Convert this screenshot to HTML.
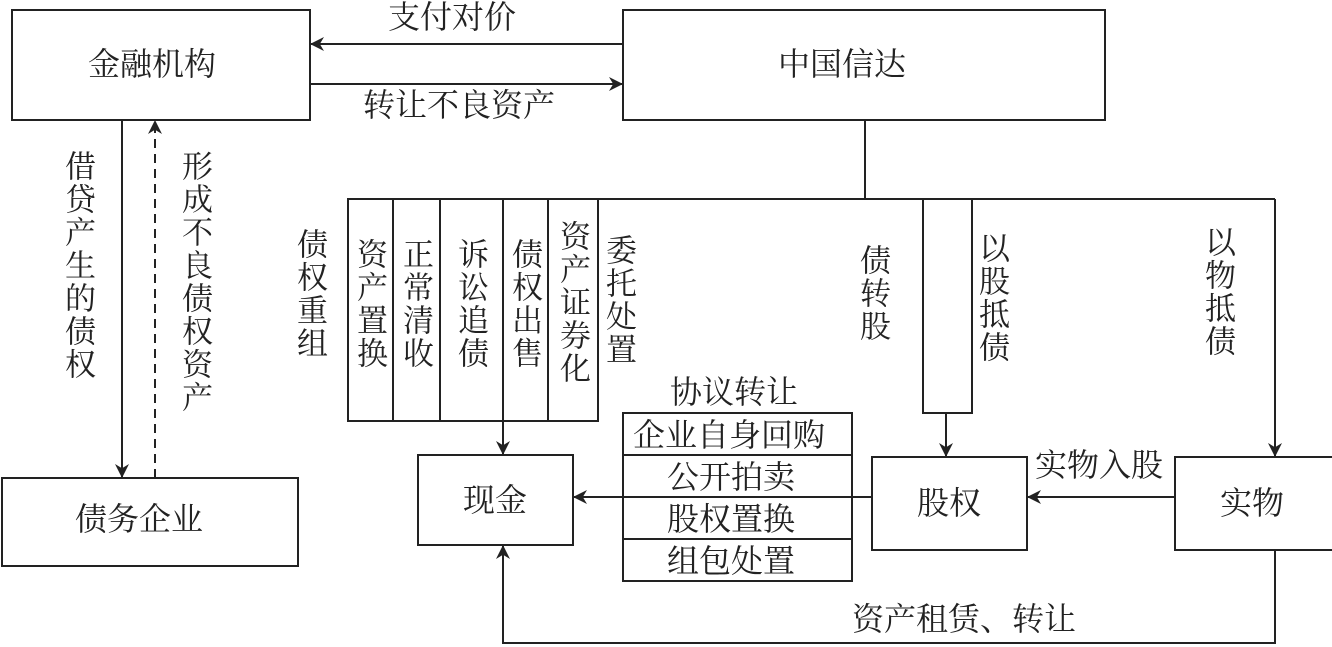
<!DOCTYPE html>
<html><head><meta charset="utf-8"><style>
body{margin:0;width:1332px;height:647px;background:#fff;position:relative;overflow:hidden;font-family:"Liberation Serif","Noto Serif CJK SC",serif;color:#222}
.t{position:absolute;font-size:32px;line-height:32px;white-space:nowrap}
.v{position:absolute;writing-mode:vertical-rl;font-size:31px;line-height:31px;letter-spacing:2px;width:31px}
svg{position:absolute;left:0;top:0}
</style></head><body>
<svg width="1332" height="647" viewBox="0 0 1332 647">
<defs><marker id="a" viewBox="0 0 10 10" refX="10" refY="5" markerWidth="14" markerHeight="14" markerUnits="userSpaceOnUse" orient="auto"><path d="M0,0 L10,5 L0,10 L3,5z" fill="#222"/></marker></defs>
<g fill="none" stroke="#222" stroke-width="2">
<rect x="12" y="10" width="298" height="110"/>
<rect x="623" y="10" width="482" height="110"/>
<rect x="2" y="478" width="296" height="88"/>
<rect x="418" y="455" width="155" height="90"/>
<rect x="872" y="457" width="155" height="93"/>
<rect x="1175" y="457" width="160" height="93"/>
<rect x="623" y="413" width="229" height="168"/>
<line x1="623" y1="455" x2="852" y2="455"/><line x1="623" y1="497" x2="852" y2="497"/><line x1="623" y1="539" x2="852" y2="539"/>
<rect x="348" y="199" width="250" height="222"/>
<line x1="393" y1="199" x2="393" y2="421"/><line x1="440" y1="199" x2="440" y2="421"/><line x1="503" y1="199" x2="503" y2="421"/><line x1="548" y1="199" x2="548" y2="421"/>
<line x1="598" y1="199" x2="1275" y2="199"/>
<line x1="865" y1="120" x2="865" y2="199"/>
<rect x="923" y="199" width="49" height="214"/>
<line x1="1275" y1="199" x2="1275" y2="457" marker-end="url(#a)"/>
<line x1="946" y1="413" x2="946" y2="457" marker-end="url(#a)"/>
<line x1="503" y1="421" x2="503" y2="455" marker-end="url(#a)"/>
<line x1="872" y1="497" x2="852" y2="497"/>
<line x1="623" y1="497" x2="573" y2="497" marker-end="url(#a)"/>
<line x1="1175" y1="497" x2="1027" y2="497" marker-end="url(#a)"/>
<polyline points="1275,550 1275,643 503,643 503,545" marker-end="url(#a)"/>
<line x1="623" y1="44" x2="310" y2="44" marker-end="url(#a)"/>
<line x1="310" y1="84" x2="623" y2="84" marker-end="url(#a)"/>
<line x1="122" y1="120" x2="122" y2="478" marker-end="url(#a)"/>
<line x1="155" y1="478" x2="155" y2="120" stroke-dasharray="9,6" marker-end="url(#a)"/>
</g></svg>
<div class="t" style="left:88px;top:48px">金融机构</div>
<div class="t" style="left:778px;top:48px">中国信达</div>
<div class="t" style="left:75px;top:503px">债务企业</div>
<div class="t" style="left:463px;top:484px">现金</div>
<div class="t" style="left:917px;top:487px">股权</div>
<div class="t" style="left:1220px;top:487px">实物</div>
<div class="t" style="left:388px;top:1px">支付对价</div>
<div class="t" style="left:363px;top:89px">转让不良资产</div>
<div class="t" style="left:670px;top:376px">协议转让</div>
<div class="t" style="left:633px;top:419px">企业自身回购</div>
<div class="t" style="left:667px;top:461px">公开拍卖</div>
<div class="t" style="left:667px;top:503px">股权置换</div>
<div class="t" style="left:667px;top:545px">组包处置</div>
<div class="t" style="left:1035px;top:449px">实物入股</div>
<div class="t" style="left:852px;top:603px">资产租赁、转让</div>
<div class="v" style="left:62px;top:150px">借贷产生的债权</div>
<div class="v" style="left:179px;top:150px">形成不良债权资产</div>
<div class="v" style="left:294px;top:228px">债权重组</div>
<div class="v" style="left:354px;top:238px">资产置换</div>
<div class="v" style="left:400px;top:238px">正常清收</div>
<div class="v" style="left:455px;top:238px">诉讼追债</div>
<div class="v" style="left:509px;top:238px">债权出售</div>
<div class="v" style="left:557px;top:220px">资产证券化</div>
<div class="v" style="left:603px;top:234px">委托处置</div>
<div class="v" style="left:857px;top:244px">债转股</div>
<div class="v" style="left:976px;top:232px">以股抵债</div>
<div class="v" style="left:1202px;top:226px">以物抵债</div>
</body></html>
